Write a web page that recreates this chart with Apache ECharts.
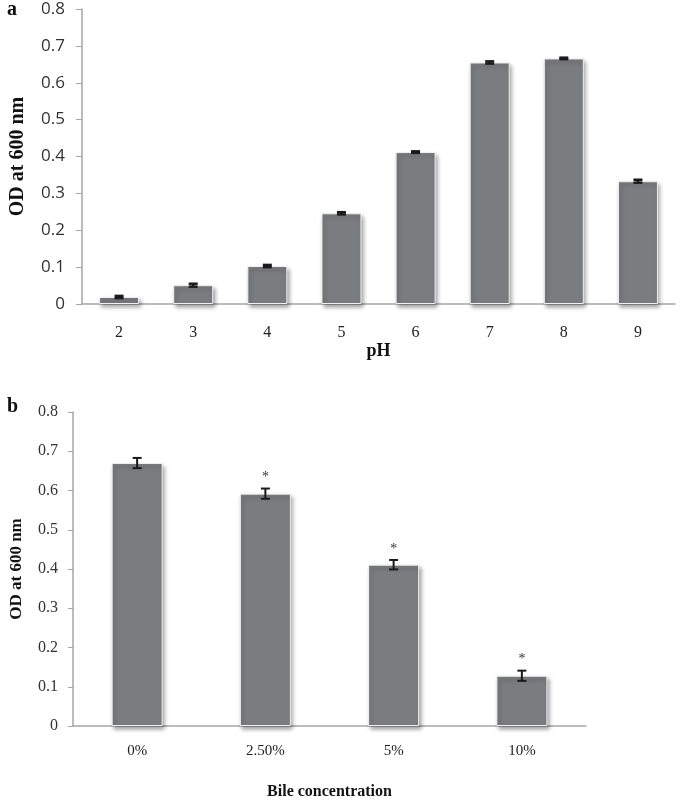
<!DOCTYPE html>
<html>
<head>
<meta charset="utf-8">
<script src="https://cdn.jsdelivr.net/npm/echarts@6/dist/echarts.min.js"></script>
<style>html,body{margin:0;padding:0;background:#fff;}#c{width:685px;height:801px;}</style>
</head>
<body>
<div id="c"></div>
<script>
// Panel a: pH
var phCategories = ['2', '3', '4', '5', '6', '7', '8', '9'];
var phValues = [0.019, 0.051, 0.103, 0.246, 0.412, 0.655, 0.666, 0.333];
var phErrors = [0.003, 0.004, 0.003, 0.003, 0.002, 0.003, 0.002, 0.004];

// Panel b: bile concentration
var bileCategories = ['0%', '2.50%', '5%', '10%'];
var bileValues = [0.670, 0.592, 0.411, 0.128];
var bileErrors = [0.013, 0.013, 0.012, 0.013];
var bileMarks = ['', '*', '*', '*'];

var yTicksMax = 0.8;
var yTicksInterval = 0.1;

var barColor = '#7b7c80';
var serif = '"Liberation Serif", "DejaVu Serif", serif';
var sans = '"Open Sans", "Liberation Sans", sans-serif';

function errData(vals, errs, marks) {
  return vals.map(function (v, i) { return [i, v, errs[i], marks ? marks[i] : '']; });
}

function errRender(capW, lw) {
  return function (params, api) {
    var x = api.value(0), v = api.value(1), e = api.value(2);
    var mark = api.value(3);
    var hi = api.coord([x, v + e]);
    var lo = api.coord([x, v - e]);
    var st = { stroke: '#1a1a1a', lineWidth: lw };
    var children = [
      { type: 'line', shape: { x1: hi[0], y1: hi[1], x2: lo[0], y2: lo[1] }, style: st },
      { type: 'line', shape: { x1: hi[0] - capW / 2, y1: hi[1], x2: hi[0] + capW / 2, y2: hi[1] }, style: st },
      { type: 'line', shape: { x1: lo[0] - capW / 2, y1: lo[1], x2: lo[0] + capW / 2, y2: lo[1] }, style: st }
    ];
    if (mark) {
      children.push({ type: 'text', style: { text: mark, x: hi[0], y: hi[1] - 4, textAlign: 'center', textVerticalAlign: 'bottom', font: '14px ' + serif, fill: '#333' } });
    }
    return { type: 'group', children: children };
  };
}

var barItemStyle = {
  color: barColor,
  borderColor: '#f0f0f0',
  borderWidth: 1,
  shadowColor: 'rgba(0,0,0,0.35)',
  shadowBlur: 4,
  shadowOffsetX: 2,
  shadowOffsetY: 3
};

var chart = echarts.init(document.getElementById('c'), null, { renderer: 'canvas' });
chart.setOption({
  animation: false,
  backgroundColor: '#fff',
  title: [
    { text: 'a', left: 7, top: 0, padding: 0, textStyle: { fontFamily: serif, fontWeight: 'bold', fontSize: 20, color: '#111' } },
    { text: 'b', left: 7, top: 397, padding: 0, textStyle: { fontFamily: serif, fontWeight: 'bold', fontSize: 20, color: '#111' } }
  ],
  grid: [
    { left: 74, top: 9, width: 601, height: 295, containLabel: false },
    { left: 66, top: 412, width: 520, height: 322, containLabel: false }
  ],
  xAxis: [
    {
      type: 'category', gridIndex: 0, data: phCategories,
      axisLine: { lineStyle: { color: '#a6a6a6', width: 1.5 } },
      axisTick: { show: false },
      axisLabel: { margin: 21, fontFamily: serif, fontSize: 16, color: '#222' },
      name: 'pH', nameLocation: 'middle', nameGap: 37,
      nameTextStyle: { fontFamily: serif, fontWeight: 'bold', fontSize: 18, color: '#111' }
    },
    {
      type: 'category', gridIndex: 1, data: bileCategories,
      axisLine: { lineStyle: { color: '#a6a6a6', width: 1.5 } },
      axisTick: { show: false },
      axisLabel: { margin: 18, fontFamily: serif, fontSize: 15, color: '#222' },
      name: 'Bile concentration', nameLocation: 'middle', nameGap: 58,
      nameTextStyle: { fontFamily: serif, fontWeight: 'bold', fontSize: 16, color: '#111' }
    }
  ],
  yAxis: [
    {
      type: 'value', gridIndex: 0, min: 0, max: yTicksMax, interval: yTicksInterval,
      axisLine: { show: true, lineStyle: { color: '#a6a6a6', width: 1.5 } },
      axisTick: { show: true, length: 6, lineStyle: { color: '#a6a6a6' } },
      splitLine: { show: false },
      axisLabel: { margin: 17, fontFamily: sans, fontSize: 17, color: '#333',
        formatter: function (v) { return v === 0 ? '0' : v.toFixed(1); } },
      name: 'OD at 600 nm', nameLocation: 'middle', nameGap: 54, nameRotate: 90,
      nameTextStyle: { fontFamily: serif, fontWeight: 'bold', fontSize: 20, color: '#111' }
    },
    {
      type: 'value', gridIndex: 1, min: 0, max: yTicksMax, interval: yTicksInterval,
      axisLine: { show: true, lineStyle: { color: '#a6a6a6', width: 1.5 } },
      axisTick: { show: true, length: 5, lineStyle: { color: '#a6a6a6' } },
      splitLine: { show: false },
      axisLabel: { margin: 15, fontFamily: serif, fontSize: 16, color: '#333',
        formatter: function (v) { return v === 0 ? '0' : v.toFixed(1); } },
      name: 'OD at 600 nm', nameLocation: 'middle', nameGap: 48, nameRotate: 90,
      nameTextStyle: { fontFamily: serif, fontWeight: 'bold', fontSize: 17, color: '#111' }
    }
  ],
  series: [
    { type: 'bar', xAxisIndex: 0, yAxisIndex: 0, data: phValues, barWidth: 40, itemStyle: barItemStyle, z: 2 },
    { type: 'custom', xAxisIndex: 0, yAxisIndex: 0, data: errData(phValues, phErrors), renderItem: errRender(9, 2.5), z: 5 },
    { type: 'bar', xAxisIndex: 1, yAxisIndex: 1, data: bileValues, barWidth: 51, itemStyle: barItemStyle, z: 2 },
    { type: 'custom', xAxisIndex: 1, yAxisIndex: 1, data: errData(bileValues, bileErrors, bileMarks), renderItem: errRender(9, 2), z: 5 }
  ]
});
</script>
</body>
</html>
